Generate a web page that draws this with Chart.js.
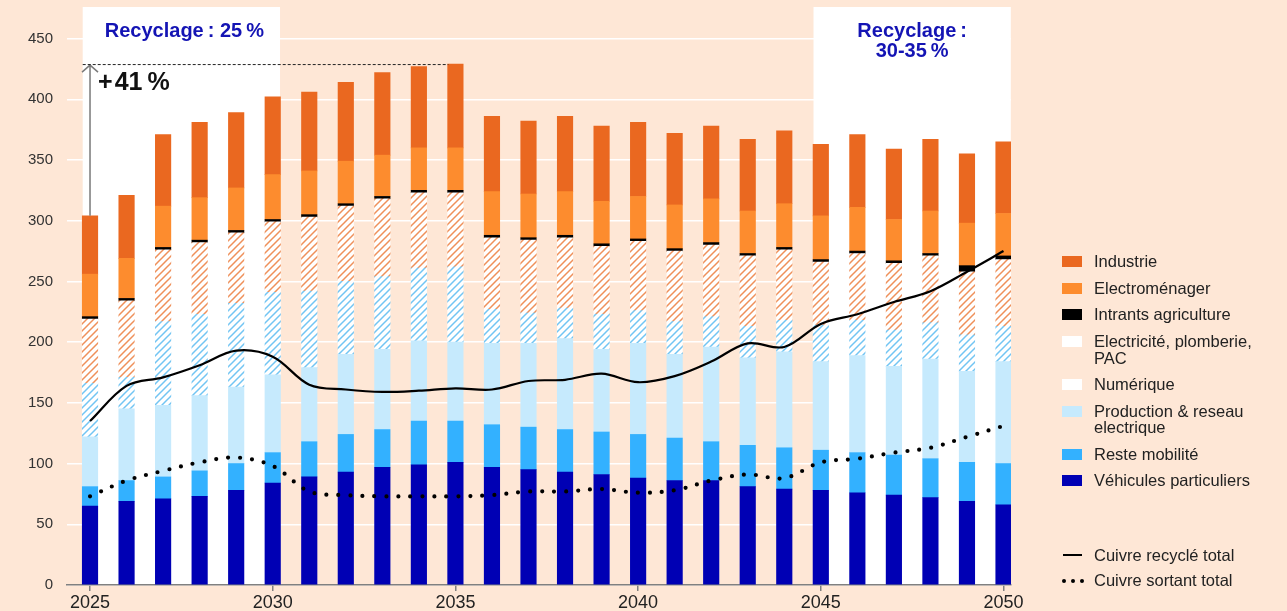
<!DOCTYPE html>
<html lang="fr">
<head>
<meta charset="utf-8">
<title>Cuivre</title>
<script src="https://cdn.jsdelivr.net/npm/chart.js@4.4.1/dist/chart.umd.min.js"></script>
<style>
  html, body { margin: 0; padding: 0; background: #fee7d6; }
  body { width: 1287px; height: 611px; position: relative; overflow: hidden;
         font-family: "Liberation Sans", Arial, sans-serif; color: #222; }
  #graphique { position: absolute; left: 0; top: 0; }
  #legende { position: absolute; left: 1062px; top: 0; font-size: 16.5px; }
  .carre { position: absolute; left: 0; width: 20px; height: 11px; }
  .texte { position: absolute; left: 32px; line-height: 16.7px; white-space: nowrap; }
  .trait { position: absolute; left: 1px; width: 19px; height: 0; border-top: 2px solid #000; }
  .point { position: absolute; width: 4px; height: 4px; border-radius: 50%; background: #000; }
</style>
</head>
<body>
<canvas id="graphique" width="1287" height="611"></canvas>
<div id="legende"></div>

<script>
// Données (kt de cuivre)
const annees = [2025, 2026, 2027, 2028, 2029, 2030, 2031, 2032, 2033, 2034, 2035, 2036, 2037,
                2038, 2039, 2040, 2041, 2042, 2043, 2044, 2045, 2046, 2047, 2048, 2049, 2050];

const vehicules      = [65, 69, 71, 73, 78, 84, 89, 93, 97, 99, 101, 97, 95, 93, 91, 88, 86, 86, 81, 79, 78, 76, 74, 72, 69, 66];
const resteMobilite  = [16, 17, 18, 21, 22, 25, 29, 31, 31, 36, 34, 35, 35, 35, 35, 36, 35, 32, 34, 34, 33, 33, 33, 32, 32, 34];
const production     = [41, 59, 59, 62, 63, 64, 61, 66, 66, 66, 65, 67, 69, 75, 68, 75, 69, 78, 72, 79, 73, 80, 73, 82, 75, 84];
const numerique      = [44, 26, 69, 67, 69, 68, 63, 60, 60, 60, 62, 28, 25, 25, 29, 27, 27, 25, 26, 26, 30, 29, 30, 30, 30, 29];
const electricite    = [53, 63, 59, 59, 58, 58, 61, 62, 64, 62, 61, 59, 60, 58, 56, 57, 58, 59, 58, 58, 52, 55, 55, 55, 52, 55];
const intrants       = [2, 2, 2, 2, 2, 2, 2, 2, 2, 2, 2, 2, 2, 2, 2, 2, 2, 2, 2, 2, 2, 2, 2, 2, 5, 3];
const electromenager = [35, 33, 34, 35, 35, 37, 36, 35, 34, 35, 35, 36, 36, 36, 35, 35, 36, 36, 35, 36, 36, 36, 34, 35, 35, 35];
const industrie      = [48, 52, 59, 62, 62, 64, 65, 65, 68, 67, 69, 62, 60, 62, 62, 61, 59, 60, 59, 60, 59, 60, 58, 59, 57, 59];

const cuivreRecycle = [135, 164, 171, 181, 193, 188, 165, 161, 159, 160, 162, 161, 168, 169, 174, 167, 172, 184, 199, 196, 215, 223, 233, 242, 258, 275];
const cuivreSortant = [73, 86, 94, 101, 105, 98, 77, 74, 73, 73, 73, 74, 77, 77, 79, 76, 78, 86, 91, 88, 101, 104, 109, 113, 122, 131];

const ticksX = [2025, 2030, 2035, 2040, 2045, 2050];
const ticksY = [0, 50, 100, 150, 200, 250, 300, 350, 400, 450];

// Zones « Recyclage »
const panneaux = [
  { debut: 2024.8, fin: 2030.2, titre: ["Recyclage\u202F: 25\u202F%"] },
  { debut: 2044.8, fin: 2050.2, titre: ["Recyclage\u202F:", "30-35\u202F%"] }
];

// Hachures
function hachure(couleur) {
  const c = document.createElement("canvas");
  c.width = 7; c.height = 7;
  const g = c.getContext("2d");
  g.fillStyle = "#fff";
  g.fillRect(0, 0, 7, 7);
  g.strokeStyle = couleur;
  g.lineWidth = 1.5;
  g.beginPath();
  g.moveTo(-1, 8); g.lineTo(8, -1);
  g.moveTo(-1, 1); g.lineTo(1, -1);
  g.moveTo(6, 8); g.lineTo(8, 6);
  g.stroke();
  return g.createPattern(c, "repeat");
}

const series = [
  { nom: "Véhicules particuliers", valeurs: vehicules, fond: "#0000b4", legende: "#0000b4" },
  { nom: "Reste mobilité", valeurs: resteMobilite, fond: "#33b1ff", legende: "#33b1ff" },
  { nom: "Production & reseau\nelectrique", valeurs: production, fond: "#c6eafd", legende: "#c6eafd" },
  { nom: "Numérique", valeurs: numerique, fond: hachure("#72c5f3"), legende: "#fff" },
  { nom: "Electricité, plomberie,\nPAC", valeurs: electricite, fond: hachure("#ef905a"), legende: "#fff" },
  { nom: "Intrants agriculture", valeurs: intrants, fond: "#000", legende: "#000" },
  { nom: "Electroménager", valeurs: electromenager, fond: "#fd8c2e", legende: "#fd8c2e" },
  { nom: "Industrie", valeurs: industrie, fond: "#ea6820", legende: "#ea6820" }
];

const points = v => v.map((y, i) => ({ x: annees[i], y }));
const totaux = annees.map((a, i) => series.reduce((s, d) => s + d.valeurs[i], 0));

// Annotations
const decor = {
  id: "decor",
  beforeDraw(chart) {
    const { ctx, chartArea, scales: { x } } = chart;
    ctx.save();
    ctx.fillStyle = "#fff";
    panneaux.forEach(p => {
      const g = x.getPixelForValue(p.debut);
      const d = x.getPixelForValue(p.fin);
      ctx.fillRect(g, chartArea.top, d - g, chartArea.bottom - chartArea.top);
    });
    ctx.restore();
  },
  afterDraw(chart) {
    const { ctx, scales: { x, y } } = chart;
    ctx.save();
    // titres
    ctx.fillStyle = "#1414b4";
    ctx.font = "bold 20px 'Liberation Sans', Arial, sans-serif";
    ctx.textAlign = "center";
    ctx.textBaseline = "middle";
    panneaux.forEach(p => {
      const cx = (x.getPixelForValue(p.debut) + x.getPixelForValue(p.fin)) / 2 + (p.titre.length === 1 ? 3 : 0);
      p.titre.forEach((t, k) => ctx.fillText(t, cx, 31 + k * 20));
    });

    // flèche +41 %
    const iMax = totaux.indexOf(Math.max(...totaux));
    const xa = x.getPixelForValue(annees[0]);
    const yBas = y.getPixelForValue(totaux[0]);
    const yHaut = y.getPixelForValue(totaux[iMax]);
    ctx.strokeStyle = "#7a7a7a";
    ctx.lineWidth = 1.5;
    ctx.beginPath();
    ctx.moveTo(xa, yBas);
    ctx.lineTo(xa, yHaut + 1);
    ctx.moveTo(xa - 8, yHaut + 8);
    ctx.lineTo(xa, yHaut + 1);
    ctx.lineTo(xa + 8, yHaut + 8);
    ctx.stroke();

    ctx.strokeStyle = "#222";
    ctx.lineWidth = 1;
    ctx.setLineDash([3, 2]);
    ctx.beginPath();
    ctx.moveTo(x.getPixelForValue(panneaux[0].debut), yHaut + 0.5);
    ctx.lineTo(x.getPixelForValue(annees[iMax]) - 7, yHaut + 0.5);
    ctx.stroke();
    ctx.setLineDash([]);

    ctx.fillStyle = "#111";
    ctx.font = "bold 25px 'Liberation Sans', Arial, sans-serif";
    ctx.textAlign = "left";
    ctx.fillText("+\u200A41\u202F%", xa + 8, yHaut + 19);
    ctx.restore();
  }
};

Chart.defaults.font.family = "'Liberation Sans', Arial, sans-serif";

new Chart(document.getElementById("graphique"), {
  type: "bar",
  data: {
    datasets: [
      {
        type: "line", label: "Cuivre recyclé total", data: points(cuivreRecycle),
        borderColor: "#000", borderWidth: 2.2, pointRadius: 0, tension: 0.35,
        stack: "recycle", order: 0
      },
      {
        type: "line", label: "Cuivre sortant total", data: points(cuivreSortant),
        borderColor: "#000", borderWidth: 4.2, borderDash: [0, 12], borderCapStyle: "round",
        pointRadius: 0, tension: 0.35, stack: "sortant", order: 0
      },
      ...series.map(s => ({
        type: "bar", label: s.nom, data: points(s.valeurs),
        backgroundColor: s.fond, barThickness: 15.5, stack: "cuivre", order: 1
      }))
    ]
  },
  options: {
    responsive: false,
    animation: false,
    layout: { padding: { top: 7, right: 276, left: 0, bottom: 0 } },
    plugins: { legend: { display: false }, tooltip: { enabled: false } },
    scales: {
      x: {
        type: "linear", stacked: true, min: 2024.37, max: 2050.205, offset: false,
        afterBuildTicks: s => { s.ticks = ticksX.map(v => ({ value: v })); },
        afterFit: s => { s.height = 26; s.paddingLeft = 0; s.paddingRight = 0; },
        grid: { offset: false, drawOnChartArea: false, drawTicks: true, tickLength: 6, color: "#808080", lineWidth: 1.5 },
        border: { display: true, color: "#808080", width: 1.5 },
        ticks: { callback: v => String(v), color: "#222", font: { size: 18 }, padding: 1, maxRotation: 0 }
      },
      y: {
        stacked: true, min: 0, max: 476,
        afterBuildTicks: s => { s.ticks = ticksY.map(v => ({ value: v })); },
        afterFit: s => { s.width = 67; s.paddingTop = 0; s.paddingBottom = 0; },
        grid: { color: "#ffffff", lineWidth: 1.5, drawTicks: false },
        border: { display: false },
        ticks: { color: "#333", font: { size: 15 }, padding: 14 }
      }
    }
  },
  plugins: [decor]
});

// Légende
const legende = document.getElementById("legende");
let yLigne = 261.7;
series.slice().reverse().forEach(s => {
  const lignes = s.nom.split("\n");
  legende.innerHTML += `
    <div class="carre" style="top:${yLigne - 5.3}px;background:${s.legende}"></div>
    <div class="texte" style="top:${yLigne - 8.35}px">${lignes.join("<br>")}</div>`;
  yLigne += 26.5 + (lignes.length - 1) * 16.7;
});
legende.innerHTML += `
  <div class="trait" style="top:554px"></div>
  <div class="texte" style="top:${555.5 - 8.35}px">Cuivre recyclé total</div>
  <div class="point" style="left:0px;top:579px"></div>
  <div class="point" style="left:9px;top:579px"></div>
  <div class="point" style="left:18px;top:579px"></div>
  <div class="texte" style="top:${580.5 - 8.35}px">Cuivre sortant total</div>`;
</script>
</body>
</html>
